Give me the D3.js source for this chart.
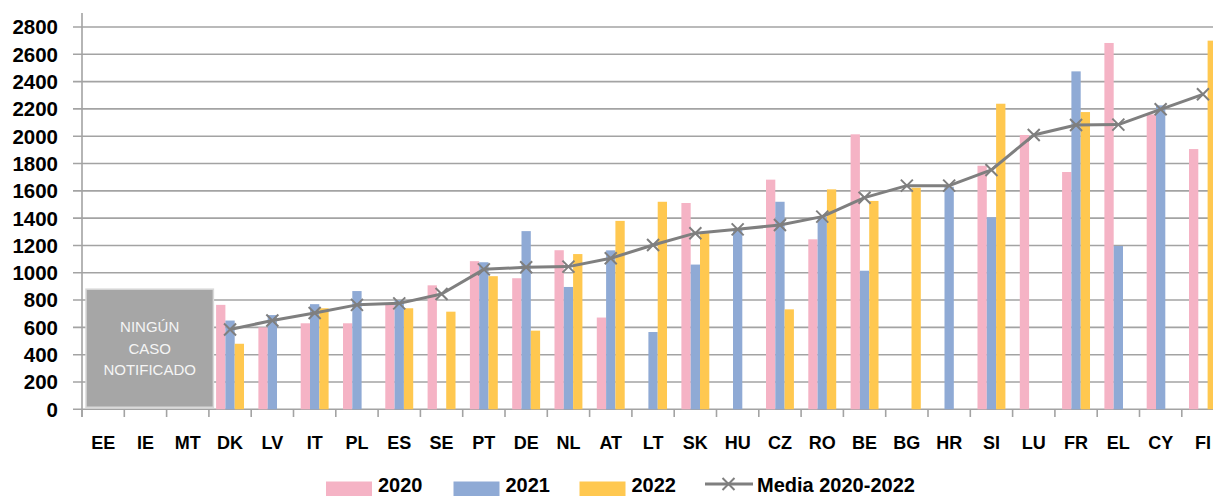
<!DOCTYPE html>
<html><head><meta charset="utf-8">
<script src="https://cdn.jsdelivr.net/npm/d3@7"></script>
<style>
html,body{margin:0;padding:0;background:#fff;overflow:hidden;}
svg{display:block;font-family:"Liberation Sans",Arial,sans-serif;}
</style></head>
<body>
<svg id="chart" width="1213" height="496"></svg>
<script>
const categories = ["EE","IE","MT","DK","LV","IT","PL","ES","SE","PT","DE","NL","AT","LT","SK","HU","CZ","RO","BE","BG","HR","SI","LU","FR","EL","CY","FI"];
const v2020 = [null,null,null,765,600,630,630,770,908,1085,960,1165,672,null,1511,null,1682,1245,2014,null,null,1784,2009,1738,2683,2160,1906];
const v2021 = [null,null,null,650,690,770,866,800,null,1077,1305,896,1164,566,1060,1313,1520,1411,1015,null,1630,1406,null,2475,1196,2226,null];
const v2022 = [null,null,null,480,null,740,null,740,715,975,576,1137,1380,1520,1290,null,732,1611,1526,1623,null,2238,null,2177,null,null,2700];
const media = [null,null,null,585,650,705,765,776,845,1025,1040,1045,1106,1203,1290,1318,1350,1411,1550,1638,1638,1753,2009,2082,2085,2197,2307];
const yTicks = [0,200,400,600,800,1000,1200,1400,1600,1800,2000,2200,2400,2600,2800];
const seriesNames = ["2020","2021","2022"];
const mediaName = "Media 2020-2022";
const noCaseLines = ["NINGÚN","CASO","NOTIFICADO"];
const colors = {"2020":"#f5b3c5","2021":"#8faad5","2022":"#ffc850"};

const svg = d3.select("#chart");
const x0 = 82, catW = 42.3;
const x = d3.scaleBand().domain(categories).range([x0, x0 + catW*categories.length]).padding(0);
const xs = d3.scaleBand().domain(seriesNames).range([catW*0.17, catW*0.83]).padding(0);
const y = d3.scaleLinear().domain([0,2800]).range([409.3, 27]);
const gridC = "#a3a3a3";

// gridlines
svg.append("g").selectAll("line").data(yTicks).join("line")
  .attr("x1", 73).attr("x2", 1213)
  .attr("y1", d=>y(d)).attr("y2", d=>y(d))
  .attr("stroke", gridC).attr("stroke-width", 1.6);

// y axis line
svg.append("line").attr("x1",x0).attr("x2",x0).attr("y1",13).attr("y2",417)
  .attr("stroke",gridC).attr("stroke-width",1.6);

// x ticks at category boundaries
svg.append("g").selectAll("line").data(categories).join("line")
  .attr("x1", d=>x(d)).attr("x2", d=>x(d))
  .attr("y1", y(0)).attr("y2", 417)
  .attr("stroke", gridC).attr("stroke-width", 1.6);

// y labels
svg.append("g").selectAll("text").data(yTicks).join("text")
  .attr("x", 58).attr("y", d=>y(d)).attr("dy","0.36em")
  .attr("text-anchor","end").attr("font-weight","bold").attr("font-size","20.5px")
  .attr("fill","#000").text(d=>d);

// x labels
svg.append("g").selectAll("text").data(categories).join("text")
  .attr("x", d=>x(d)+x.bandwidth()/2).attr("y", 448.5)
  .attr("text-anchor","middle").attr("font-weight","bold").attr("font-size","18px")
  .attr("fill","#000").text(d=>d);

// bars
const seriesData = [v2020, v2021, v2022];
seriesNames.forEach((s,si)=>{
  const rows = categories.map((c,i)=>({c, v: seriesData[si][i]})).filter(d=>d.v!=null);
  svg.append("g").selectAll("rect").data(rows).join("rect")
    .attr("x", d=>x(d.c)+xs(s)).attr("width", xs.bandwidth())
    .attr("y", d=>y(d.v)).attr("height", d=>y(0)-y(d.v))
    .attr("fill", colors[s]);
});

// gray box
const boxX1 = x("EE")+4, boxX2 = x("DK")+4.5;
svg.append("rect").attr("x", boxX1).attr("y", y(880)).attr("width", boxX2-boxX1).attr("height", y(15)-y(880))
  .attr("fill","#a6a6a6").attr("stroke","#d9d9d9").attr("stroke-width",1.5);
svg.append("g").selectAll("text").data(noCaseLines).join("text")
  .attr("x", (boxX1+boxX2)/2).attr("y",(d,i)=>332 + i*21.5)
  .attr("text-anchor","middle").attr("font-size","15px").attr("fill","#f5f5f5")
  .text(d=>d);

// mean line
const mPts = categories.map((c,i)=>({c, v: media[i]})).filter(d=>d.v!=null);
const line = d3.line().x(d=>x(d.c)+x.bandwidth()/2).y(d=>y(d.v));
svg.append("path").datum(mPts).attr("d", line).attr("fill","none")
  .attr("stroke","#7f7f7f").attr("stroke-width",3).attr("stroke-linejoin","round");
const cross = (g, cx, cy, r)=>{
  g.append("path").attr("d", `M${cx-r},${cy-r}L${cx+r},${cy+r}M${cx-r},${cy+r}L${cx+r},${cy-r}`)
   .attr("stroke","#7f7f7f").attr("stroke-width",2).attr("fill","none");
};
const mg = svg.append("g");
mPts.forEach(d=>cross(mg, x(d.c)+x.bandwidth()/2, y(d.v), 6));

// legend
const leg = svg.append("g");
const legPos = [326, 453.5, 579.5];
seriesNames.forEach((s,i)=>{
  leg.append("rect").attr("x", legPos[i]).attr("y", 481.5).attr("width", 46).attr("height", 14.5).attr("fill", colors[s]);
  leg.append("text").attr("x", legPos[i]+52).attr("y", 491.5).attr("font-weight","bold").attr("font-size","20px").attr("fill","#000").text(s);
});
leg.append("line").attr("x1",705).attr("x2",753).attr("y1",484).attr("y2",484).attr("stroke","#7f7f7f").attr("stroke-width",3);
cross(leg, 728.5, 484, 6);
leg.append("text").attr("x",757).attr("y",491.5).attr("font-weight","bold").attr("font-size","20px").attr("fill","#000").text(mediaName);
</script>
</body></html>
